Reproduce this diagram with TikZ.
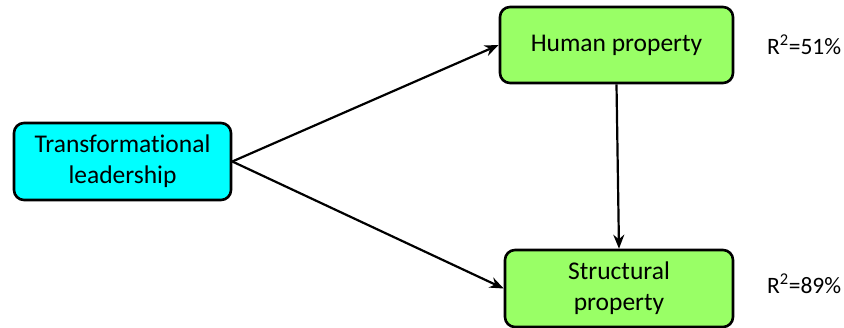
\documentclass[tikz,border=0pt]{standalone}
\usepackage{fontspec}
\setmainfont{Carlito}[Ligatures=NoCommon]
\usetikzlibrary{arrows.meta}
\definecolor{boxcyan}{HTML}{00FFFF}
\definecolor{boxgreen}{HTML}{99FF66}
\tikzset{
  varbox/.style={draw=black, line width=2.6pt, rounded corners=10pt, align=center,
    font=\fontsize{25.5}{31}\selectfont, inner sep=0pt},
  arr/.style={line width=2.2pt, -{Stealth[length=14pt,width=11pt]}},
  rlabel/.style={anchor=west, font=\fontsize{23.5}{27}\selectfont, inner sep=0pt}
}
\begin{document}
\begin{tikzpicture}[x=1pt,y=-1pt]
\useasboundingbox (0,0) rectangle (844,328);
\node[varbox, fill=boxcyan, minimum width=217pt, minimum height=77pt] (tl) at (122.5,161.5) {Transformational\\leadership};
\node[varbox, fill=boxgreen, minimum width=233pt, minimum height=76pt] (hp) at (616.5,45) {Human property};
\node[varbox, fill=boxgreen, minimum width=228pt, minimum height=77pt] (sp) at (619,288.5) {Structural\\property};
\node[rlabel] (r1) at (767,45) {R\textsuperscript{2}=51\%};
\node[rlabel] (r2) at (767,284) {R\textsuperscript{2}=89\%};
\draw[arr] (tl.east) -- (hp.west);
\draw[arr] (tl.east) -- (sp.west);
\draw[arr] (hp.south) -- (sp.north);
\end{tikzpicture}
\end{document}
